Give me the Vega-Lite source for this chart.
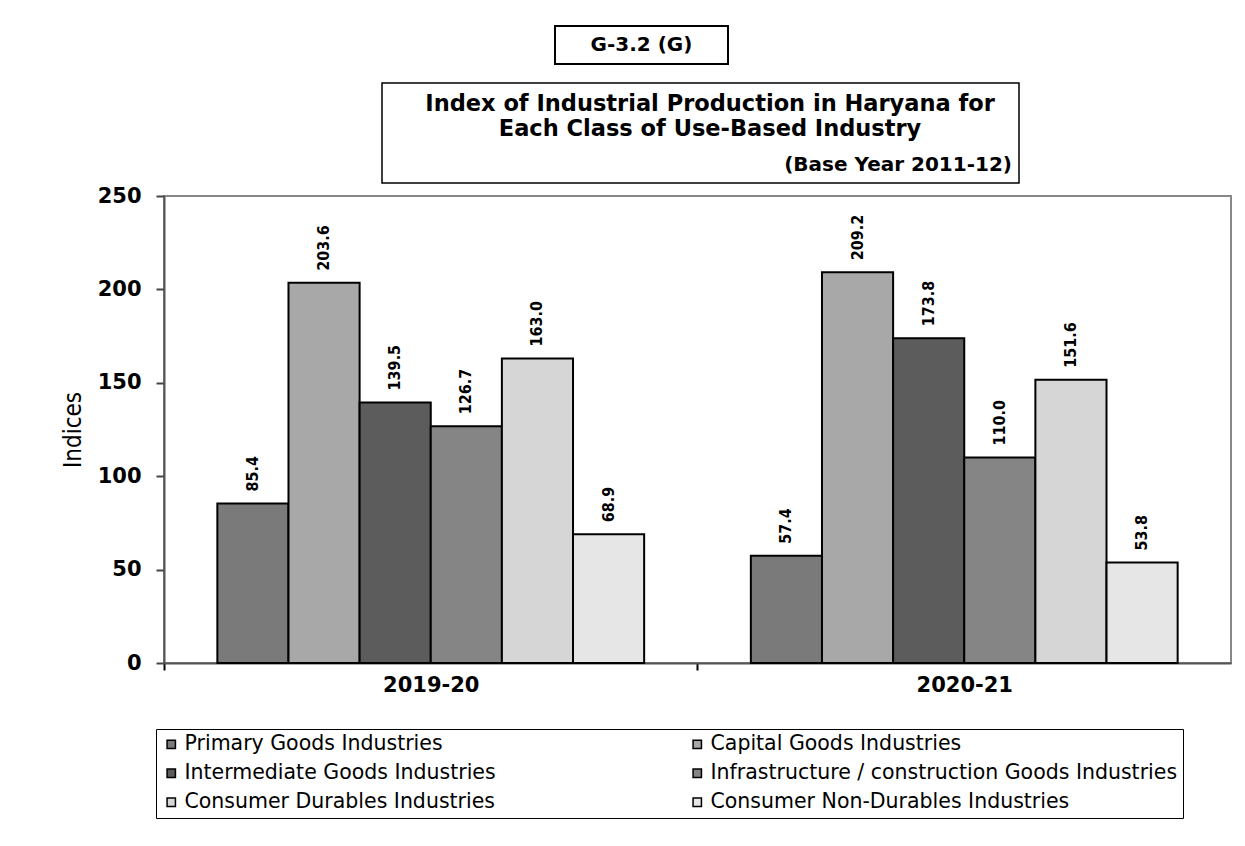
{
  "$schema": "https://vega.github.io/schema/vega-lite/v6.json",
  "background": "white",
  "padding": {"left": 60, "top": 25, "right": 5, "bottom": 5},
  "bounds": "full",
  "spacing": 0,
  "config": {
    "view": {"stroke": null},
    "font": "DejaVu Sans",
    "text": {"color": "black"}
  },
  "vconcat": [
    {
      "bounds": "full",
      "spacing": 17,
      "vconcat": [
        {
          "bounds": "full",
          "spacing": 0,
          "hconcat": [
            {
              "width": 390, "height": 38,
              "view": {"fill": "white", "stroke": null},
              "data": {"values": [{}]},
              "mark": {"type": "text", "text": ""}
            },
            {
              "width": 173, "height": 38,
              "view": {"stroke": "black", "strokeWidth": 2},
              "data": {"values": [{"t": "G-3.2 (G)"}]},
              "mark": {"type": "text", "font": "DejaVu Sans", "fontWeight": "bold", "fontSize": 20, "align": "center", "baseline": "middle"},
              "encoding": {
                "text": {"field": "t"},
                "x": {"datum": 0.5, "type": "quantitative", "scale": {"domain": [0, 1], "nice": false, "zero": false}, "axis": null},
                "y": {"datum": 0.5, "type": "quantitative", "scale": {"domain": [0, 1], "nice": false, "zero": false, "reverse": true}, "axis": null}
              }
            }
          ]
        },
        {
          "bounds": "full",
          "spacing": 0,
          "hconcat": [
            {
              "width": 217, "height": 100,
              "view": {"fill": "white", "stroke": null},
              "data": {"values": [{}]},
              "mark": {"type": "text", "text": ""}
            },
            {
              "width": 637, "height": 100,
              "view": {"stroke": "black", "strokeWidth": 1.5},
              "encoding": {
                "text": {"field": "t"}
              },
              "layer": [
                {
                  "data": {"values": [{"t": "Index of Industrial Production in Haryana for"}]},
                  "mark": {"type": "text", "fontWeight": "bold", "fontSize": 22.5, "align": "center", "baseline": "middle"},
                  "encoding": {
                    "x": {"datum": 0.515, "type": "quantitative", "scale": {"domain": [0, 1], "nice": false, "zero": false}, "axis": null},
                    "y": {"datum": 0.205, "type": "quantitative", "scale": {"domain": [0, 1], "nice": false, "zero": false, "reverse": true}, "axis": null}
                  }
                },
                {
                  "data": {"values": [{"t": "Each Class of Use-Based Industry"}]},
                  "mark": {"type": "text", "fontWeight": "bold", "fontSize": 22.5, "align": "center", "baseline": "middle"},
                  "encoding": {
                    "x": {"datum": 0.515, "type": "quantitative"},
                    "y": {"datum": 0.455, "type": "quantitative"}
                  }
                },
                {
                  "data": {"values": [{"t": "(Base Year 2011-12)"}]},
                  "mark": {"type": "text", "fontWeight": "bold", "fontSize": 20, "align": "right", "baseline": "middle"},
                  "encoding": {
                    "x": {"datum": 0.989, "type": "quantitative"},
                    "y": {"datum": 0.82, "type": "quantitative"}
                  }
                }
              ]
            }
          ]
        }
      ]
    },
    {
      "width": 1067,
      "height": 467,
      "view": {"stroke": "#888888", "strokeWidth": 2},
      "data": {
        "values": [
          {"year": "2019-20", "industry": "Primary Goods  Industries", "value": 85.4},
          {"year": "2019-20", "industry": "Capital Goods Industries", "value": 203.6},
          {"year": "2019-20", "industry": "Intermediate Goods Industries", "value": 139.5},
          {"year": "2019-20", "industry": "Infrastructure / construction Goods Industries", "value": 126.7},
          {"year": "2019-20", "industry": "Consumer Durables Industries", "value": 163.0},
          {"year": "2019-20", "industry": "Consumer Non-Durables Industries", "value": 68.9},
          {"year": "2020-21", "industry": "Primary Goods  Industries", "value": 57.4},
          {"year": "2020-21", "industry": "Capital Goods Industries", "value": 209.2},
          {"year": "2020-21", "industry": "Intermediate Goods Industries", "value": 173.8},
          {"year": "2020-21", "industry": "Infrastructure / construction Goods Industries", "value": 110.0},
          {"year": "2020-21", "industry": "Consumer Durables Industries", "value": 151.6},
          {"year": "2020-21", "industry": "Consumer Non-Durables Industries", "value": 53.8}
        ]
      },
      "encoding": {
        "x": {
          "field": "year", "type": "nominal", "title": null,
          "scale": {"paddingInner": 0.2, "paddingOuter": 0.1},
          "axis": {
            "labelAngle": 0, "labelFont": "DejaVu Sans", "labelFontWeight": "bold", "labelFontSize": 21,
            "labelColor": "black", "labelPadding": 4,
            "tickOffset": -266.75, "labelOffset": 266.75, "tickSize": 7, "tickWidth": 2, "tickColor": "black",
            "domainColor": "#555555", "domainWidth": 2
          }
        },
        "xOffset": {
          "field": "industry", "type": "nominal",
          "sort": ["Primary Goods  Industries", "Capital Goods Industries", "Intermediate Goods Industries", "Infrastructure / construction Goods Industries", "Consumer Durables Industries", "Consumer Non-Durables Industries"],
          "scale": {"paddingInner": 0, "paddingOuter": 0}
        },
        "y": {
          "field": "value", "type": "quantitative",
          "scale": {"domain": [0, 250], "nice": false},
          "axis": {
            "title": "Indices", "titleFont": "Liberation Sans Narrow, DejaVu Sans Condensed, sans-serif",
            "titleFontSize": 24, "titleFontWeight": "normal", "titleColor": "black", "titlePadding": 12,
            "values": [0, 50, 100, 150, 200, 250], "grid": false,
            "labelFont": "DejaVu Sans", "labelFontWeight": "bold", "labelFontSize": 21, "labelColor": "black",
            "labelPadding": 15, "tickSize": 8, "tickWidth": 2, "tickColor": "#444444",
            "domainColor": "#555555", "domainWidth": 2
          }
        }
      },
      "layer": [
        {
          "mark": {"type": "bar", "stroke": "black", "strokeWidth": 2},
          "encoding": {
            "fill": {
              "field": "industry", "type": "nominal",
              "scale": {
                "domain": ["Primary Goods  Industries", "Capital Goods Industries", "Intermediate Goods Industries", "Infrastructure / construction Goods Industries", "Consumer Durables Industries", "Consumer Non-Durables Industries"],
                "range": ["#7a7a7a", "#a8a8a8", "#5c5c5c", "#858585", "#d6d6d6", "#e6e6e6"]
              },
              "legend": {
                "title": null, "orient": "none", "legendX": -8, "legendY": 703,
                "direction": "horizontal", "columns": 2, "columnPadding": 191, "rowPadding": 8,
                "strokeColor": "black", "fillColor": "white", "padding": 5,
                "symbolType": "square", "symbolSize": 70, "symbolStrokeColor": "black", "symbolStrokeWidth": 1.5,
                "labelFont": "DejaVu Sans", "labelFontSize": 20.5, "labelColor": "black", "labelLimit": 0, "labelOffset": 3
              }
            }
          }
        },
        {
          "mark": {
            "type": "text", "angle": 270, "align": "left", "baseline": "middle", "dx": 12,
            "font": "DejaVu Sans Condensed", "fontSize": 16, "fontWeight": "bold", "color": "black"
          },
          "encoding": {
            "text": {"field": "value", "type": "quantitative", "format": ".1f"}
          }
        }
      ]
    }
  ]
}
